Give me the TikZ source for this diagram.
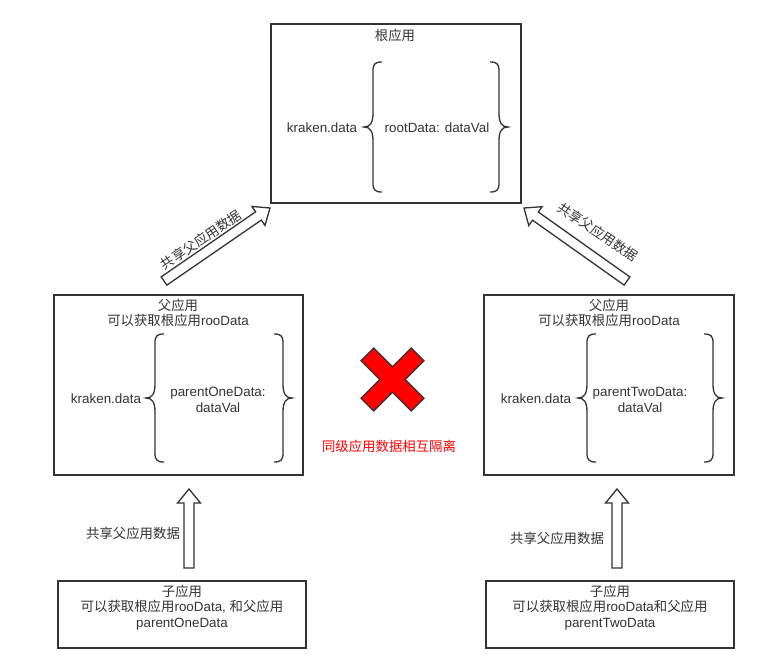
\documentclass[tikz,border=0pt]{standalone}
\usepackage{fontspec}
\setmainfont{Liberation Sans}
\newfontfamily\cjk{Noto Sans CJK SC}
\usepackage{tikz}
\usetikzlibrary{calc}
\usetikzlibrary{positioning}
\definecolor{linegray}{HTML}{333333}
\definecolor{xred}{HTML}{FF0000}
\tikzset{
    appbox/.style = {rectangle, line width=1.6pt, draw=linegray, inner sep=0pt},
    apptext/.style = {align=center, inner sep=0pt, text=black!80},
    redtext/.style = {align=center, inner sep=0pt, text=xred},
    curly/.style = {line width=1.3pt, draw=linegray},
    hollow/.style = {line width=1.3pt, draw=linegray, fill=white, line join=miter},
    crossmark/.style = {line width=1.3pt, draw=linegray, fill=xred, line join=miter},
    every picture/.style={font issue=\fontsize{13.4}{15.5}},
    font issue/.style={execute at begin picture={#1\selectfont}
  }
}
% left and right curly brackets: x of spine, top y, bottom y
\newcommand{\bracel}[3]{%
  \draw[curly] ({#1+9},#2) .. controls ({#1+2},#2) and ({#1},{#2+2}) .. ({#1},{#2+9})
    -- ({#1},{(#2+#3)/2-14}) .. controls ({#1},{(#2+#3)/2-4}) and ({#1-3},{(#2+#3)/2}) .. ({#1-9},{(#2+#3)/2})
    .. controls ({#1-3},{(#2+#3)/2}) and ({#1},{(#2+#3)/2+4}) .. ({#1},{(#2+#3)/2+14})
    -- ({#1},{#3-9}) .. controls ({#1},{#3-2}) and ({#1+2},#3) .. ({#1+9},#3);}
\newcommand{\bracer}[3]{%
  \draw[curly] ({#1-9},#2) .. controls ({#1-2},#2) and ({#1},{#2+2}) .. ({#1},{#2+9})
    -- ({#1},{(#2+#3)/2-14}) .. controls ({#1},{(#2+#3)/2-4}) and ({#1+3},{(#2+#3)/2}) .. ({#1+9},{(#2+#3)/2})
    .. controls ({#1+3},{(#2+#3)/2}) and ({#1},{(#2+#3)/2+4}) .. ({#1},{(#2+#3)/2+14})
    -- ({#1},{#3-9}) .. controls ({#1},{#3-2}) and ({#1-2},#3) .. ({#1-9},#3);}
% hollow block arrow from #1 to #2
\newcommand{\blockarrow}[2]{%
  \coordinate (hb) at ($(#2)!14pt!(#1)$);
  \draw[hollow] ($(#1)!5pt!90:(#2)$) -- ($(hb)!5pt!-90:(#1)$) -- ($(hb)!11.5pt!-90:(#1)$)
    -- (#2) -- ($(hb)!11.5pt!90:(#1)$) -- ($(hb)!5pt!90:(#1)$) -- ($(#1)!5pt!-90:(#2)$) -- cycle;}

\begin{document}
\begin{tikzpicture}[x=1pt,y=-1pt]
\useasboundingbox (0,0) rectangle (758,672);
%
\node[appbox, minimum width=250pt, minimum height=179pt] at (396, 113.5) (root) {};
\node[appbox, minimum width=249pt, minimum height=180pt] at (178.5, 385) (pone) {};
\node[appbox, minimum width=250pt, minimum height=180pt] at (609, 385) (ptwo) {};
\node[appbox, minimum width=248pt, minimum height=67pt] at (182, 614.5) (cone) {};
\node[appbox, minimum width=248pt, minimum height=67pt] at (610, 614.5) (ctwo) {};
%
\node[apptext] at (395, 35) (roottitle) {\cjk 根应用};
\node[apptext] at (322, 128) (rootkey) {kraken.data};
\node[apptext] at (437, 128) (rootval) {rootData: dataVal};
\bracel{373}{62}{192}
\bracer{499}{62}{192}
%
\node[apptext] at (178, 313) (ponetitle) {{\cjk 父应用}\\{\cjk 可以获取根应用}rooData};
\node[apptext] at (106, 399) (ponekey) {kraken.data};
\node[apptext] at (218, 400) (poneval) {parentOneData:\\dataVal};
\bracel{155}{334}{462}
\bracer{283}{334}{462}
%
\node[apptext] at (609, 313) (ptwotitle) {{\cjk 父应用}\\{\cjk 可以获取根应用}rooData};
\node[apptext] at (536, 399) (ptwokey) {kraken.data};
\node[apptext] at (640, 400) (ptwoval) {parentTwoData:\\dataVal};
\bracel{587}{334}{462}
\bracer{713}{334}{462}
%
\node[apptext] at (182, 607.5) (conetext) {{\cjk 子应用}\\{\cjk 可以获取根应用}rooData, {\cjk 和父应用}\\parentOneData};
\node[apptext] at (610, 607.5) (ctwotext) {{\cjk 子应用}\\{\cjk 可以获取根应用}rooData{\cjk 和父应用}\\parentTwoData};
%
\coordinate (uponetail) at (189, 568);
\coordinate (uponetip) at (189, 489);
\coordinate (uptwotail) at (617, 568);
\coordinate (uptwotip) at (617, 489);
\coordinate (dgonetail) at (164, 281);
\coordinate (dgonetip) at (270, 208);
\coordinate (dgtwotail) at (627, 281);
\coordinate (dgtwotip) at (524, 208);
\blockarrow{uponetail}{uponetip}
\blockarrow{uptwotail}{uptwotip}
\blockarrow{dgonetail}{dgonetip}
\blockarrow{dgtwotail}{dgtwotip}
\node[apptext] at (133, 533) (uponelabel) {\cjk 共享父应用数据};
\node[apptext] at (557, 538) (uptwolabel) {\cjk 共享父应用数据};
\node[apptext, rotate=34] at (201, 240) (dgonelabel) {\cjk 共享父应用数据};
\node[apptext, rotate=-34] at (598, 232) (dgtwolabel) {\cjk 共享父应用数据};
%
\begin{scope}[shift={(392.5, 379.5)}, rotate=45]
\draw[crossmark] (9,35.5) -- (9,9) -- (35.5,9) -- (35.5,-9) -- (9,-9) -- (9,-35.5)
  -- (-9,-35.5) -- (-9,-9) -- (-35.5,-9) -- (-35.5,9) -- (-9,9) -- (-9,35.5) -- cycle;
\end{scope}
\node[redtext] at (389, 446) (isolation) {\cjk 同级应用数据相互隔离};

\end{tikzpicture}
\end{document}
